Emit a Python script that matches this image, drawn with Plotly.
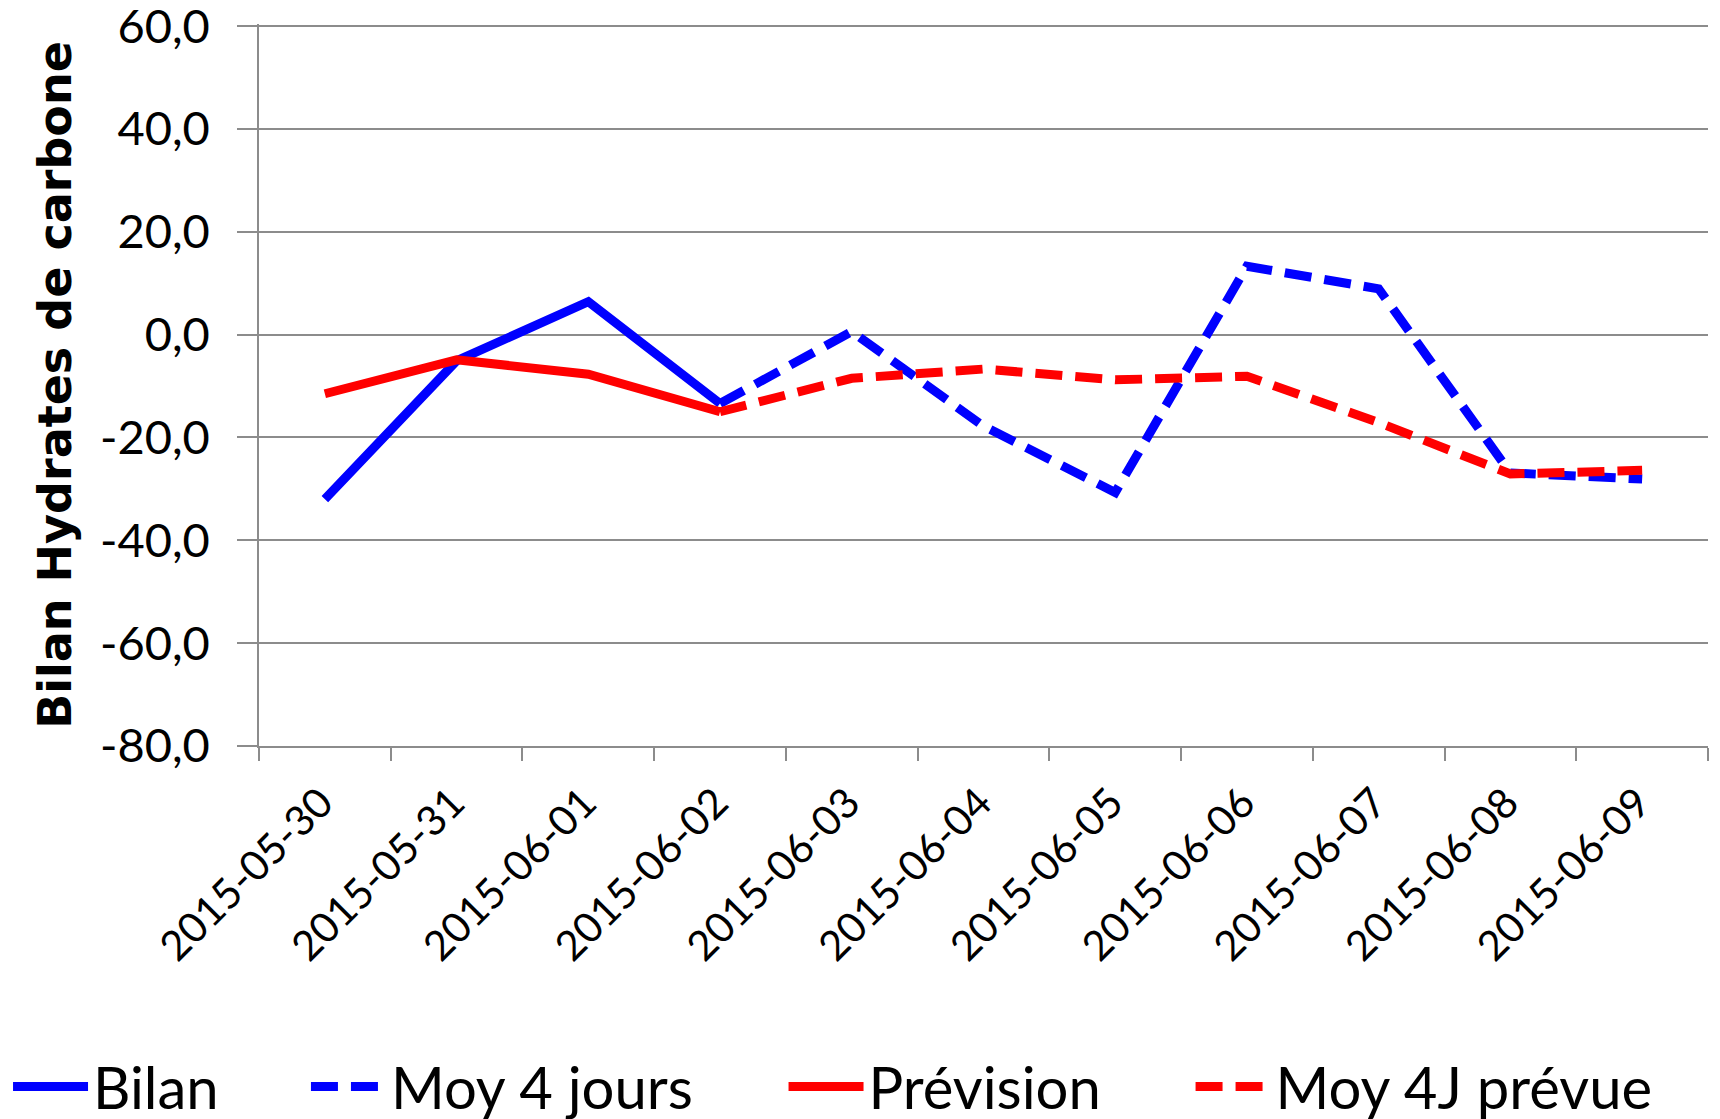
import plotly.graph_objects as go

dates = ["2015-05-30", "2015-05-31", "2015-06-01", "2015-06-02", "2015-06-03", "2015-06-04",
         "2015-06-05", "2015-06-06", "2015-06-07", "2015-06-08", "2015-06-09"]
bilan = [-32.0, -5.1, 6.4, -13.4, None, None, None, None, None, None, None]
moy4 = [None, None, None, -13.4, 0.6, -17.8, -30.7, 13.3, 8.9, -26.9, -28.1]
prevision = [-11.5, -4.9, -7.7, -15.0, None, None, None, None, None, None, None]
moy4p = [None, None, None, -15.0, -8.5, -6.7, -8.8, -8.1, -17.1, -27.1, -26.4]
y_ticks = [-80, -60, -40, -20, 0, 20, 40, 60]
y_ticktext = ["-80,0", "-60,0", "-40,0", "-20,0", "0,0", "20,0", "40,0", "60,0"]

BLUE = "#0000FF"
RED = "#FF0000"
GRID = "#8C8C8C"
FONT = "Lato"
DASH = "27px,13px"
LW = 9

fig = go.Figure()
fig.add_trace(go.Scatter(x=dates, y=bilan, name="Bilan", mode="lines", legend="legend",
                         line=dict(color=BLUE, width=LW)))
fig.add_trace(go.Scatter(x=dates, y=moy4, name="Moy 4 jours", mode="lines", legend="legend2",
                         line=dict(color=BLUE, width=LW, dash=DASH)))
fig.add_trace(go.Scatter(x=dates, y=prevision, name="Prévision", mode="lines", legend="legend3",
                         line=dict(color=RED, width=LW)))
fig.add_trace(go.Scatter(x=dates, y=moy4p, name="Moy 4J prévue", mode="lines", legend="legend4",
                         line=dict(color=RED, width=LW, dash=DASH)))


def leg(x):
    return dict(orientation="h", x=x, xanchor="left", y=-0.472, yanchor="middle",
                font=dict(family=FONT, size=58, color="black"),
                itemwidth=75, bgcolor="rgba(0,0,0,0)", borderwidth=0)


fig.update_layout(
    width=1720, height=1119,
    margin=dict(l=259, r=12, t=24, b=373, autoexpand=False),
    paper_bgcolor="white", plot_bgcolor="white",
    font=dict(family=FONT, color="black"),
    showlegend=True,
    legend=leg(-0.1732), legend2=leg(0.0324), legend3=leg(0.3620), legend4=leg(0.6429),
    xaxis=dict(type="category", range=[-0.5, len(dates) - 0.5], tickson="boundaries",
               ticks="outside", ticklen=13,
               tickcolor=GRID, tickwidth=1.5, showline=True, linecolor=GRID, linewidth=1.5,
               showgrid=False, tickangle=-45, ticklabelshift=-4, ticklabelstandoff=14,
               tickfont=dict(family=FONT, size=41.5, color="black")),
    yaxis=dict(range=[-80, 60.4], tickvals=y_ticks, ticktext=y_ticktext,
               ticks="outside", ticklen=20, tickcolor=GRID, tickwidth=1.5,
               showline=True, linecolor=GRID, linewidth=1.5,
               showgrid=True, gridcolor=GRID, gridwidth=1.5, zeroline=False,
               ticklabelstandoff=18, ticklabeloverflow="allow",
               tickfont=dict(family=FONT, size=47, color="black"),
               title=dict(text="<b>Bilan Hydrates de carbone</b>",
                          font=dict(family="DejaVu Sans", size=46, color="black"),
                          standoff=14)),
)

fig.write_html("out.html", config={"displayModeBar": False},
               post_script="document.body.style.margin='0';")
